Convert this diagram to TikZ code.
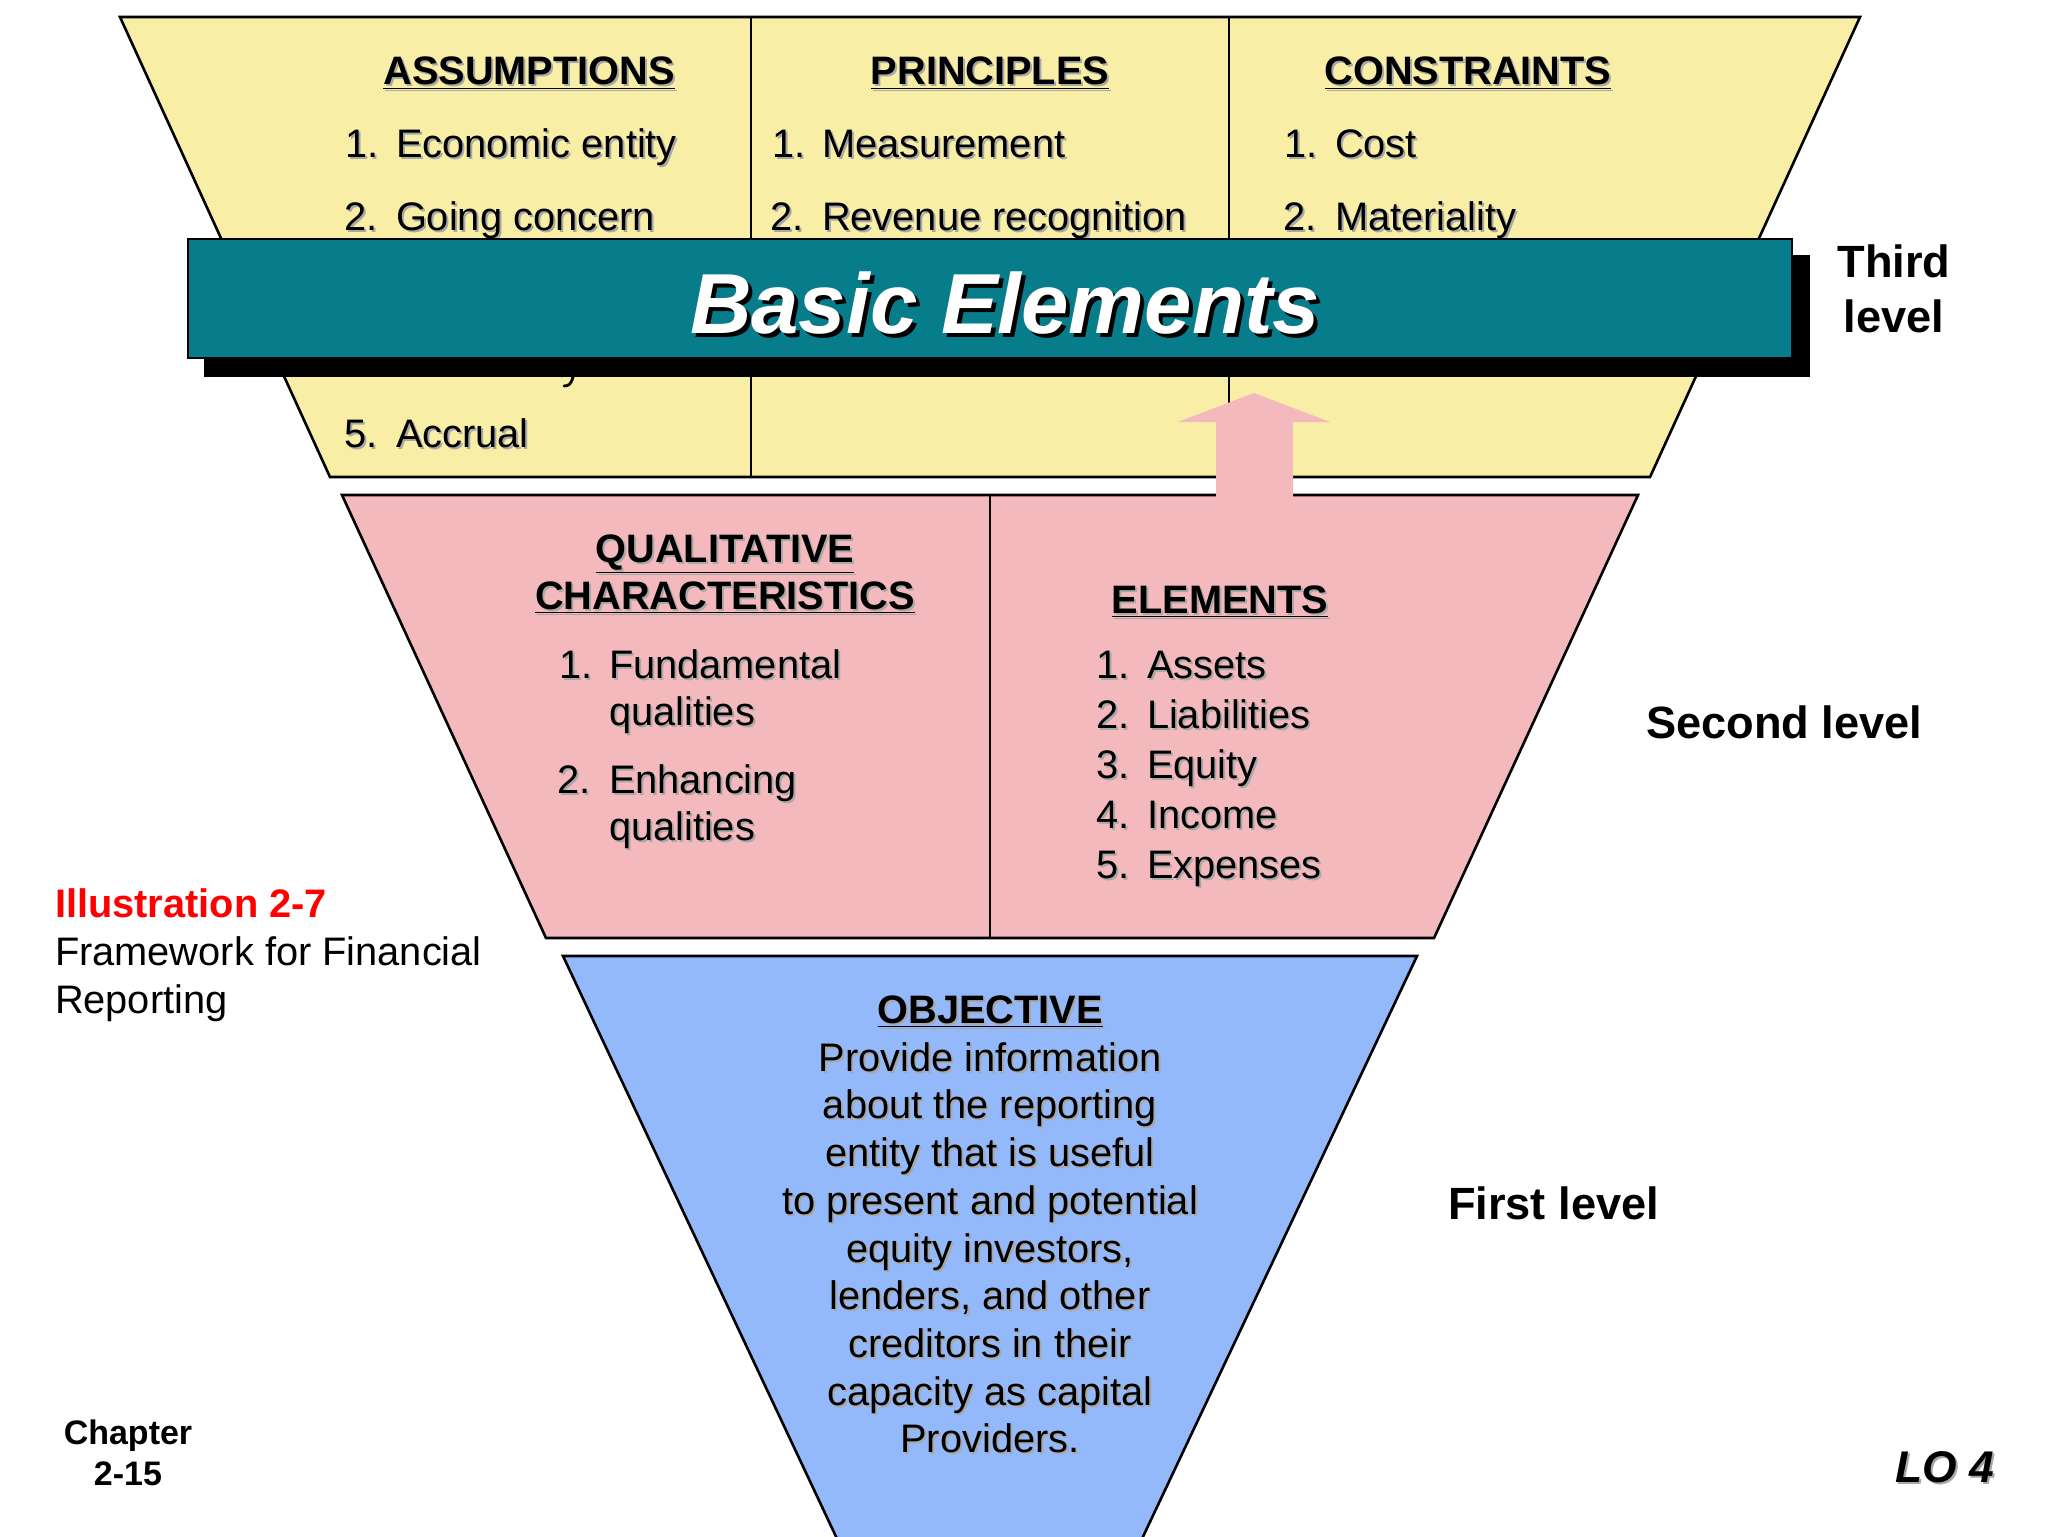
\documentclass[tikz,border=0pt]{standalone}
\usepackage{fontspec}
\setmainfont{Liberation Sans}
\definecolor{yel}{HTML}{F9EEA6}
\definecolor{pnk}{HTML}{F4B9BC}
\definecolor{blu}{HTML}{93B9FB}
\definecolor{tea}{HTML}{077D8C}
\definecolor{shd}{gray}{0.66}
\newcommand{\shtxt}[1]{\leavevmode\rlap{\kern1pt\raisebox{-1pt}[0pt][0pt]{\textcolor{shd}{#1}}}#1}
\newcommand{\shblk}[1]{\leavevmode\rlap{\kern2pt\raisebox{-2pt}[0pt][0pt]{\textcolor{black}{#1}}}#1}
\tikzset{
  tx/.style={inner sep=0pt,outer sep=0pt},
  listitem/.style={tx,anchor=base west,font=\fontsize{19.9}{24}\selectfont},
  centerline/.style={tx,anchor=base,font=\fontsize{19.9}{24}\selectfont},
  heading/.style={tx,anchor=base,font=\fontsize{19.85}{24}\selectfont\bfseries},
  levellab/.style={tx,font=\fontsize{22.6}{26}\selectfont\bfseries},
  panel/.style={draw=black,line width=1.3pt,line join=miter},
  divider/.style={draw=black,line width=1.2pt}
}
\begin{document}
\begin{tikzpicture}[x=0.5pt,y=-0.5pt]
\useasboundingbox (0,0) rectangle (2048,1536);
\fill[white] (0,0) rectangle (2048,1536);
% yellow panel
\path[panel,fill=yel] (120,17) -- (1860,17) -- (1650,477) -- (330,477) -- cycle;
\draw[divider] (751,17) -- (751,477);
\draw[divider] (1229,17) -- (1229,477);
% pink panel
\path[panel,fill=pnk] (342,495) -- (1638,495) -- (1434,938) -- (546,938) -- cycle;
\draw[divider] (990,495) -- (990,938);
% blue panel
\path[panel,fill=blu] (563,956) -- (1417,956) -- (1132,1560) -- (847,1560) -- cycle;
% arrow
\fill[pnk] (1254,393) -- (1330,422) -- (1293,422) -- (1293,497) -- (1216,497) -- (1216,422) -- (1178,422) -- cycle;

% third level
\node[heading] (h1) at (529,85) {\shtxt{\underline{ASSUMPTIONS}}};
\node[listitem] (a1n) at (345,157) {\shtxt{1.}};
\node[listitem] (a1t) at (396,157) {\shtxt{Economic entity}};
\node[listitem] (a2n) at (344,230) {\shtxt{2.}};
\node[listitem] (a2t) at (396,230) {\shtxt{Going concern}};
\node[listitem] (a5n) at (344,447) {\shtxt{5.}};
\node[listitem] (a5t) at (396,447) {\shtxt{Accrual}};
\draw[line width=1.4pt,line cap=round] (573,377) .. controls (571,384) and (569,386) .. (564,386);

\node[heading] (h2) at (990,85) {\shtxt{\underline{PRINCIPLES}}};
\node[listitem] (p1n) at (772,157) {\shtxt{1.}};
\node[listitem] (p1t) at (822,157) {\shtxt{Measurement}};
\node[listitem] (p2n) at (770,230) {\shtxt{2.}};
\node[listitem] (p2t) at (822,230) {\shtxt{Revenue recognition}};

\node[heading] (h3) at (1468,85) {\shtxt{\underline{CONSTRAINTS}}};
\node[listitem] (c1n) at (1284,157) {\shtxt{1.}};
\node[listitem] (c1t) at (1335,157) {\shtxt{Cost}};
\node[listitem] (c2n) at (1283,230) {\shtxt{2.}};
\node[listitem] (c2t) at (1335,230) {\shtxt{Materiality}};

% band
\fill[black] (204,255) rectangle (1810,377);
\path[draw=black,line width=1.3pt,fill=tea] (188,239) rectangle (1792,358);
\node[tx,anchor=base,font=\fontsize{42.6}{50}\selectfont\bfseries\itshape,text=white] (band) at (1005,333) {\shblk{Basic Elements}};

% second level
\node[heading] (q1) at (725,562) {\shtxt{\underline{QUALITATIVE}}};
\node[heading] (q2) at (725,609) {\shtxt{\underline{CHARACTERISTICS}}};
\node[listitem] (q3n) at (559,678) {\shtxt{1.}};
\node[listitem] (q3t) at (609,678) {\shtxt{Fundamental}};
\node[listitem] (q3u) at (609,725) {\shtxt{qualities}};
\node[listitem] (q4n) at (557,793) {\shtxt{2.}};
\node[listitem] (q4t) at (609,793) {\shtxt{Enhancing}};
\node[listitem] (q4u) at (609,840) {\shtxt{qualities}};

\node[heading] (e0) at (1220,613) {\shtxt{\underline{ELEMENTS}}};
\node[listitem] (e1n) at (1096,678) {\shtxt{1.}};
\node[listitem] (e1t) at (1147,678) {\shtxt{Assets}};
\node[listitem] (e2n) at (1096,728) {\shtxt{2.}};
\node[listitem] (e2t) at (1147,728) {\shtxt{Liabilities}};
\node[listitem] (e3n) at (1096,778) {\shtxt{3.}};
\node[listitem] (e3t) at (1147,778) {\shtxt{Equity}};
\node[listitem] (e4n) at (1096,828) {\shtxt{4.}};
\node[listitem] (e4t) at (1147,828) {\shtxt{Income}};
\node[listitem] (e5n) at (1096,878) {\shtxt{5.}};
\node[listitem] (e5t) at (1147,878) {\shtxt{Expenses}};

% first level
\node[heading] (o0) at (990,1023) {\shtxt{\underline{OBJECTIVE}}};
\node[centerline] (o1) at (990,1071) {\shtxt{Provide information}};
\node[centerline] (o2) at (990,1118) {\shtxt{about the reporting}};
\node[centerline] (o3) at (990,1166) {\shtxt{entity that is useful}};
\node[centerline] (o4) at (990,1214) {\shtxt{to present and potential}};
\node[centerline] (o5) at (990,1262) {\shtxt{equity investors,}};
\node[centerline] (o6) at (990,1309) {\shtxt{lenders, and other}};
\node[centerline] (o7) at (990,1357) {\shtxt{creditors in their}};
\node[centerline] (o8) at (990,1405) {\shtxt{capacity as capital}};
\node[centerline] (o9) at (990,1452) {\shtxt{Providers.}};

% level labels
\node[levellab,anchor=base] (l3a) at (1894,277) {Third};
\node[levellab,anchor=base] (l3b) at (1894,332) {level};
\node[levellab,anchor=base west] (l2) at (1646,738) {Second level};
\node[levellab,anchor=base west] (l1) at (1448,1219) {First level};

% side notes
\node[tx,anchor=base west,font=\fontsize{19.9}{24}\selectfont\bfseries,text=red] (ill) at (55,917) {Illustration 2-7};
\node[tx,anchor=base west,font=\fontsize{19.9}{24}\selectfont] (fr1) at (55,965) {Framework for Financial};
\node[tx,anchor=base west,font=\fontsize{19.9}{24}\selectfont] (fr2) at (55,1013) {Reporting};
\node[tx,anchor=base,font=\fontsize{17}{20}\selectfont\bfseries] (ch1) at (128,1444) {Chapter};
\node[tx,anchor=base,font=\fontsize{17}{20}\selectfont\bfseries] (ch2) at (128,1485) {2-15};
\node[tx,anchor=base east,font=\fontsize{22.2}{26}\selectfont\bfseries\itshape] (lo) at (1994,1482) {\shtxt{LO 4}};
\end{tikzpicture}
\end{document}
